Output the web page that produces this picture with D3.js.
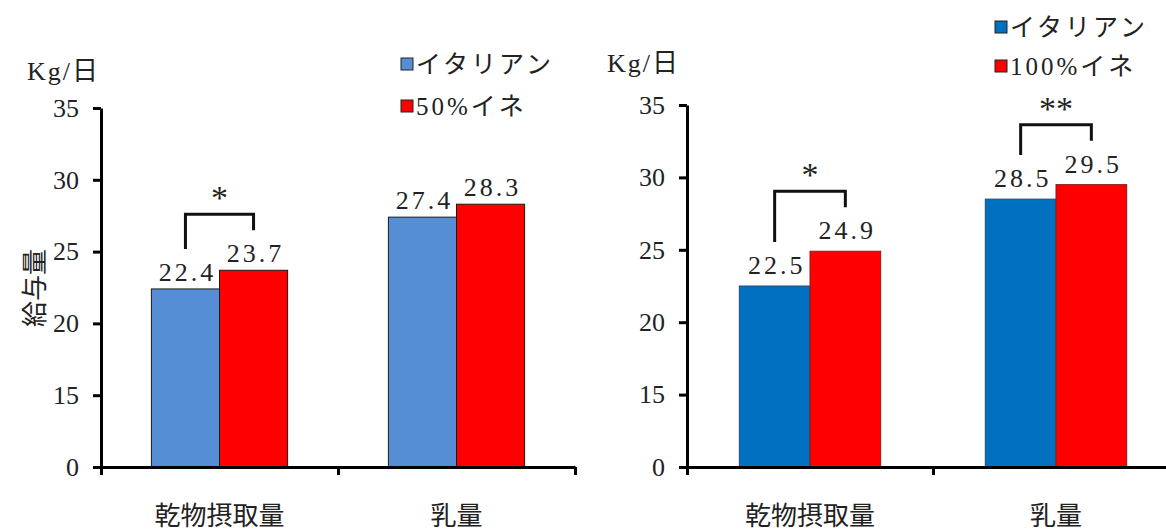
<!DOCTYPE html>
<html>
<head>
<meta charset="utf-8">
<script src="https://cdn.jsdelivr.net/npm/d3@7"></script>
<style>
  body { margin: 0; background: #fff; }
  text { font-family: "Liberation Serif", "Noto Sans CJK JP", serif; fill: #222; }
</style>
</head>
<body>
<script>
"use strict";

///// data
var categories = ["乾物摂取量", "乳量"];
var seriesLeft = ["イタリアン", "50%イネ"];
var seriesRight = ["イタリアン", "100%イネ"];
var leftItalian = [22.4, 27.4];
var left50 = [23.7, 28.3];
var rightItalian = [22.5, 28.5];
var right100 = [24.9, 29.5];
var sigLeft = ["*", ""];
var sigRight = ["*", "**"];
// axis is broken : the "0" tick sits where 10 would be
var yTicks = [10, 15, 20, 25, 30, 35];
var yTickLabels = ["0", "15", "20", "25", "30", "35"];
var unitLabel = "Kg/日";
var yTitle = "給与量";

var W = 1166, H = 532;
var svg = d3.select("body").append("svg").attr("width", W).attr("height", H);

var panels = [
  { x0: 101, x1: 575, top: 108, base: 467, series: seriesLeft, vals: [leftItalian, left50],
    colors: ["#558ED5", "#FF0000"], strokes: ["#1a1a1a", "#1a1a1a"], sig: sigLeft, labelOff: 17,
    unit: [27, 80], legend: [401, 58, 42], ytitle: true },
  { x0: 687, x1: 1179, top: 105, base: 467, series: seriesRight, vals: [rightItalian, right100],
    colors: ["#0070C0", "#FF0000"], strokes: ["#1F4E79", "#8B1A1A"], sig: sigRight, labelOff: 21,
    unit: [607, 72], legend: [995, 21, 39], ytitle: false }
];

panels.forEach(function(p) {
  var g = svg.append("g");

  var y = d3.scaleLinear().domain([10, 35]).range([p.base, p.top]);
  var xc = d3.scaleBand().domain(categories).range([p.x0, p.x1]);
  var xs = d3.scaleBand().domain(p.series).range([0, xc.bandwidth()]).paddingOuter(0.74);
  var xl = d3.scaleLinear().domain([0, 2]).range([p.x0, p.x1]);

  // bars
  p.series.forEach(function(s, si) {
    g.selectAll(".bar" + si)
      .data(p.vals[si])
      .enter().append("rect")
      .attr("x", function(d, i) { return xc(categories[i]) + xs(s); })
      .attr("y", function(d) { return y(d); })
      .attr("width", xs.bandwidth())
      .attr("height", function(d) { return p.base - y(d); })
      .attr("fill", p.colors[si])
      .attr("stroke", p.strokes[si])
      .attr("stroke-width", 1);

    g.selectAll(".lab" + si)
      .data(p.vals[si])
      .enter().append("text")
      .attr("x", function(d, i) { return xc(categories[i]) + xs(s) + xs.bandwidth() / 2 + 2; })
      .attr("y", function(d) { return y(d) - p.labelOff + 9; })
      .attr("text-anchor", "middle")
      .style("font-size", "26px")
      .style("letter-spacing", "3px")
      .text(function(d) { return d.toFixed(1); });
  });

  // significance brackets
  categories.forEach(function(c, i) {
    if (!p.sig[i]) return;
    var lx = xc(c) + xs(p.series[0]) + xs.bandwidth() / 2;
    var rx = xc(c) + xs(p.series[1]) + xs.bandwidth() / 2;
    var ly = y(p.vals[0][i]) - p.labelOff - 23;
    var ry = y(p.vals[1][i]) - p.labelOff - 23;
    var top = Math.min(ly, ry) - 16;
    g.append("path")
      .attr("d", "M" + lx + "," + ly + "V" + top + "H" + rx + "V" + ry)
      .attr("fill", "none").attr("stroke", "#111").attr("stroke-width", 3);
    g.append("text")
      .attr("x", (lx + rx) / 2)
      .attr("y", top - 19 + 14)
      .attr("text-anchor", "middle")
      .style("font-size", "34px")
      .text(p.sig[i]);
  });

  // y axis
  var ya = g.append("g")
    .attr("transform", "translate(" + p.x0 + ",0)")
    .call(d3.axisLeft(y).tickValues(yTicks)
      .tickFormat(function(d, i) { return yTickLabels[i]; })
      .tickSize(8).tickSizeOuter(0).tickPadding(14));
  ya.select(".domain").attr("stroke", "#000").attr("stroke-width", 3);
  ya.selectAll(".tick line").attr("stroke", "#000").attr("stroke-width", 3);
  ya.selectAll(".tick text").style("font-size", "26px").style("font-family", "Liberation Serif").attr("fill", "#222");

  // x axis
  var xa = g.append("g")
    .attr("transform", "translate(0," + p.base + ")")
    .call(d3.axisBottom(xl).tickValues([0, 1, 2]).tickFormat("").tickSize(8).tickSizeOuter(0));
  xa.select(".domain").attr("stroke", "#000").attr("stroke-width", 3);
  xa.selectAll(".tick line").attr("stroke", "#000").attr("stroke-width", 3);

  g.selectAll(".cat")
    .data(categories)
    .enter().append("text")
    .attr("x", function(d) { return xc(d) + xc.bandwidth() / 2; })
    .attr("y", 525)
    .attr("text-anchor", "middle")
    .style("font-size", "26px")
    .style("font-family", "Noto Sans CJK JP")
    .text(function(d) { return d; });

  // unit
  g.append("text")
    .attr("x", p.unit[0]).attr("y", p.unit[1])
    .style("font-size", "26px")
    .style("letter-spacing", "2px")
    .text(unitLabel);

  // legend
  p.series.forEach(function(s, si) {
    var ly = p.legend[1] + si * p.legend[2];
    g.append("rect")
      .attr("x", p.legend[0]).attr("y", ly)
      .attr("width", 12).attr("height", 12)
      .attr("fill", p.colors[si])
      .attr("stroke", "#222").attr("stroke-width", 1);
    g.append("text")
      .attr("x", p.legend[0] + 15).attr("y", ly + 15)
      .style("font-size", "25px")
      .style("letter-spacing", "3px")
      .text(s);
  });

  if (p.ytitle) {
    g.append("text")
      .attr("transform", "translate(32,288) rotate(-90)")
      .attr("text-anchor", "middle")
      .attr("dominant-baseline", "central")
      .style("font-size", "26px")
      .style("font-family", "Noto Sans CJK JP")
      .text(yTitle);
  }
});
</script>
</body>
</html>
